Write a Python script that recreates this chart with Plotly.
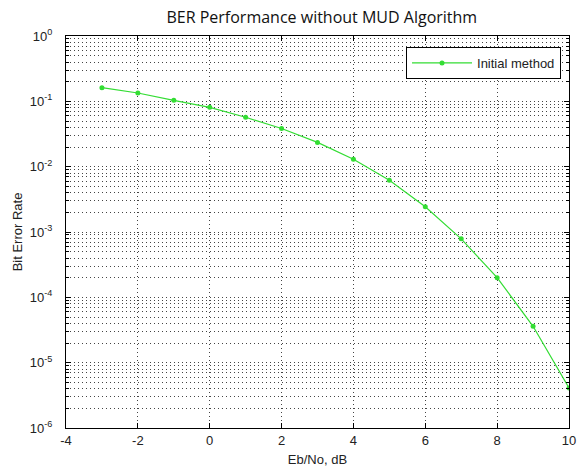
import plotly.graph_objects as go

ebno = [-3, -2, -1, 0, 1, 2, 3, 4, 5, 6, 7, 8, 9, 10]
ber = [0.162, 0.134, 0.1035, 0.081, 0.057, 0.0384, 0.0235, 0.013, 0.0062,
       0.00244, 0.000785, 0.0002, 3.6e-5, 4.1e-6]
series_name = "Initial method"
x_ticks = [-4, -2, 0, 2, 4, 6, 8, 10]
x_ticktext = ["-4", "-2", "0", "2", "4", "6", "8", "10"]
y_ticks = [1e-6, 1e-5, 1e-4, 1e-3, 1e-2, 1e-1, 1e0]
y_ticktext = ["10<sup>-6</sup>", "10<sup>-5</sup>", "10<sup>-4</sup>", "10<sup>-3</sup>",
              "10<sup>-2</sup>", "10<sup>-1</sup>", "10<sup>0</sup>"]
minor_y = [m * 10.0 ** e for e in range(-6, 0) for m in range(2, 10)]

GREEN = "#33dd33"
AXFONT = dict(family="Liberation Sans, Arial", size=13, color="#222")

fig = go.Figure()
fig.add_trace(go.Scatter(
    x=ebno, y=ber, mode="lines+markers", name=series_name,
    line=dict(color=GREEN, width=1.2),
    marker=dict(color=GREEN, size=5, symbol="circle"),
))

fig.update_layout(
    width=583, height=472,
    margin=dict(l=66, r=7, t=36, b=42),
    paper_bgcolor="white", plot_bgcolor="white",
    title=dict(text="BER Performance without MUD Algorithm",
               font=dict(family="Open Sans, Noto Sans", size=16, color="#111"),
               x=0.552, xanchor="center", y=0.964, yanchor="middle"),
    showlegend=True,
    legend=dict(x=0.676, y=0.972, xanchor="left", yanchor="top",
                bgcolor="white", bordercolor="black", borderwidth=1,
                font=AXFONT, itemwidth=60, tracegroupgap=0),
    xaxis=dict(
        range=[-4, 10], tickvals=x_ticks, ticktext=x_ticktext, ticks="inside", ticklen=5,
        tickcolor="black", linecolor="black", linewidth=1, mirror="allticks",
        showline=True, zeroline=False, ticklabeloverflow="allow",
        showgrid=True, gridcolor="#444", griddash="1px,3px", gridwidth=1,
        tickfont=AXFONT,
        title=dict(text="Eb/No, dB", font=AXFONT, standoff=8),
    ),
    yaxis=dict(
        type="log", range=[-6, 0], tickvals=y_ticks, ticktext=y_ticktext,
        ticks="inside", ticklen=5, tickcolor="black",
        linecolor="black", linewidth=1, mirror="allticks", showline=True,
        showgrid=True, gridcolor="#444", griddash="1px,3px", gridwidth=1,
        tickfont=AXFONT, ticklabeloverflow="allow", ticklabelstandoff=10,
        title=dict(text="Bit Error Rate", font=AXFONT, standoff=4),
        minor=dict(tickvals=minor_y, ticks="inside", ticklen=3, tickcolor="black",
                   showgrid=True, gridcolor="#444", griddash="1px,3px", gridwidth=1),
    ),
)

fig.write_html("out.html")
